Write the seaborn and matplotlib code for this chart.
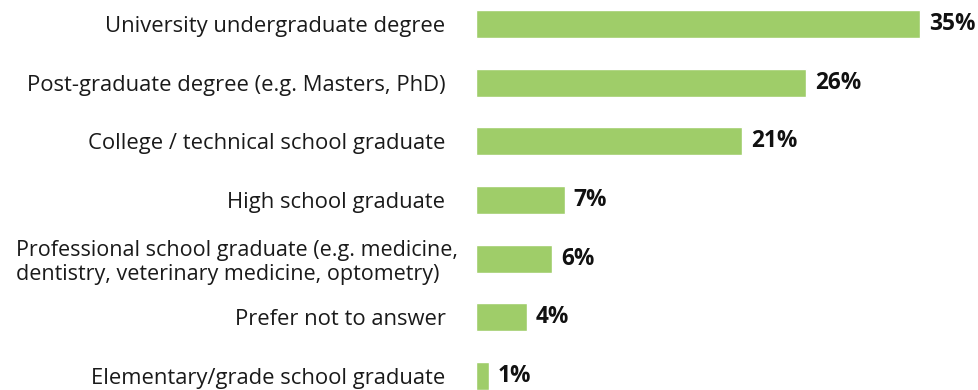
import matplotlib
matplotlib.use("Agg")
import matplotlib.pyplot as plt
import matplotlib.transforms as mtransforms
import seaborn as sns
import pandas as pd

categories = [
    "University undergraduate degree",
    "Post-graduate degree (e.g. Masters, PhD)",
    "College / technical school graduate",
    "High school graduate",
    "Professional school graduate (e.g. medicine,\ndentistry, veterinary medicine, optometry)",
    "Prefer not to answer",
    "Elementary/grade school graduate",
]
values = [35, 26, 21, 7, 6, 4, 1]
value_labels = ["35%", "26%", "21%", "7%", "6%", "4%", "1%"]

sns.set_theme(style="white")
plt.rcParams["font.family"] = ["Open Sans", "DejaVu Sans"]

df = pd.DataFrame({"category": categories, "value": values})

fig = plt.figure(figsize=(9.79, 3.90), dpi=100)
ax = fig.add_axes([476 / 979, 0, 1 - 476 / 979, 1])

sns.barplot(data=df, y="category", x="value", orient="h",
            color="#9fcd69", saturation=1, width=0.477, ax=ax)

ax.set_xlim(0, 35 * (979 - 476) / 444)
ax.set_ylim(6.24, -0.41)

for i, (v, lab) in enumerate(zip(values, value_labels)):
    ax.annotate(lab, xy=(v, i), xytext=(6.5, 0), textcoords="offset points",
                ha="left", va="center", fontsize=16.3, fontweight="bold",
                color="#111111")

ax.set_xlabel("")
ax.set_ylabel("")
ax.set_xticks([])
ax.tick_params(axis="y", length=0, pad=22)
for t in ax.get_yticklabels():
    t.set_fontsize(15.8)
    t.set_color("#1a1a1a")
    t.set_multialignment("left")
    if "\n" in t.get_text():
        # the two-line label reaches a little closer to its bar
        t.set_transform(t.get_transform() +
                        mtransforms.ScaledTranslation(0.13, 0, fig.dpi_scale_trans))
        t.set_fontsize(15.5)
sns.despine(ax=ax, left=True, bottom=True)

fig.savefig("out.png", dpi=100)
